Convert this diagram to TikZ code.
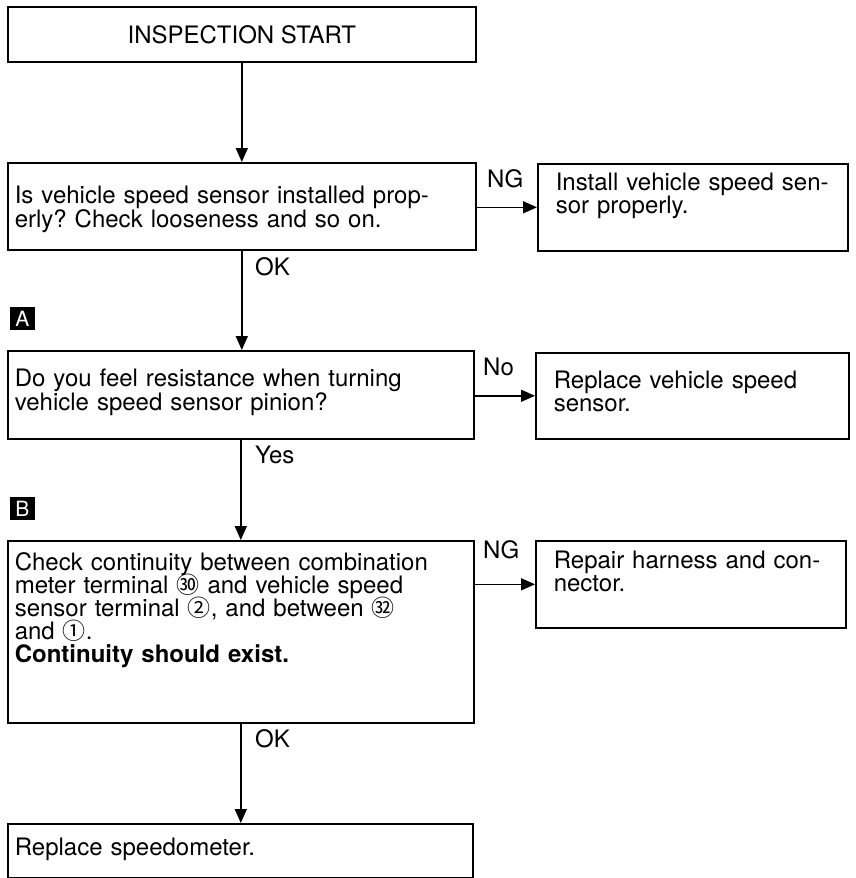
\documentclass[tikz,border=0pt]{standalone}
\usepackage{fontspec}
\setmainfont{TeX Gyre Heros}
\newfontfamily\cjk{Noto Sans CJK JP}
\usetikzlibrary{arrows.meta}
\frenchspacing

% circled terminal number
\newcommand\term[1]{\smash{\cjk\fontsize{23}{23}\selectfont #1}}

\begin{document}
\begin{tikzpicture}[
  x=1pt, y=-1pt,
  font=\fontsize{24}{23}\selectfont,
  box/.style={draw=black, line width=1.6pt, anchor=north west, align=left,
              inner xsep=7pt, inner ysep=0pt},
  actbox/.style={box, inner xsep=18pt},
  badge/.style={fill=black, text=white, minimum width=25pt, minimum height=23pt,
                inner sep=0pt, font=\fontsize{21}{21}\selectfont},
  lbl/.style={anchor=base west, inner sep=0pt},
  flow/.style={draw=black, line width=1.6pt, -{Triangle[length=14pt,width=12pt]}},
]
\useasboundingbox (0,0) rectangle (856,878);

% ---------- start ----------
\node[draw=black, line width=1.6pt, anchor=north west, minimum width=468pt,
      minimum height=55pt, inner sep=0pt] (start) at (7,6) {INSPECTION START};

% ---------- checks (left column) ----------
\node[box, text width=454pt, text height=41pt, text depth=46pt] (q1) at (7,162)
  {Is vehicle speed sensor installed prop-\\
   erly? Check looseness and so on.};
\node[box, text width=452pt, text height=36pt, text depth=52pt] (q2) at (7,350)
  {Do you feel resistance when turning\\
   vehicle speed sensor pinion?};
\node[box, text width=452pt, text height=30pt, text depth=152pt] (q3) at (7,540)
  {Check continuity between combination\\
   meter terminal \term{㉚} and vehicle speed\\
   sensor terminal \term{②}, and between \term{㉜}\\
   and \term{①}.\\
   \textbf{Continuity should exist.}};
\node[box, text width=451pt, text height=32pt, text depth=22pt] (final) at (7,823)
  {Replace speedometer.};

% ---------- repairs (right column) ----------
\node[actbox, text width=274pt, text height=27pt, text depth=60pt] (fix1) at (537,163)
  {Install vehicle speed sen-\\
   sor properly.};
\node[actbox, text width=277pt, text height=36pt, text depth=50pt] (fix2) at (535,352)
  {Replace vehicle speed\\
   sensor.};
\node[actbox, text width=274pt, text height=28pt, text depth=59pt] (fix3) at (535,540)
  {Repair harness and con-\\
   nector.};

% ---------- step marks ----------
\node[badge] (markA) at (22.5,318.5) {A};
\node[badge] (markB) at (22.5,508.5) {B};

% ---------- main flow ----------
\draw[flow] (start.south) -- (start.south |- q1.north);
\draw[flow] (q1.south) -- (q1.south |- q2.north);
\draw[flow] (q2.south) -- (q2.south |- q3.north);
\draw[flow] (q3.south) -- (q3.south |- final.north);
\node[lbl] (ok1) at (255,275) {OK};
\node[lbl] (yes2) at (255,463) {Yes};
\node[lbl] (ok3) at (255,747) {OK};

% ---------- branches ----------
\draw[flow] (q1.east |- fix1.west) -- (fix1.west);
\draw[flow] (q2.east |- fix2.west) -- (fix2.west);
\draw[flow] (q3.east |- fix3.west) -- (fix3.west);
\node[lbl] (ng1) at (487,187) {NG};
\node[lbl] (no2) at (483,375) {No};
\node[lbl] (ng3) at (483,558) {NG};

\end{tikzpicture}
\end{document}
